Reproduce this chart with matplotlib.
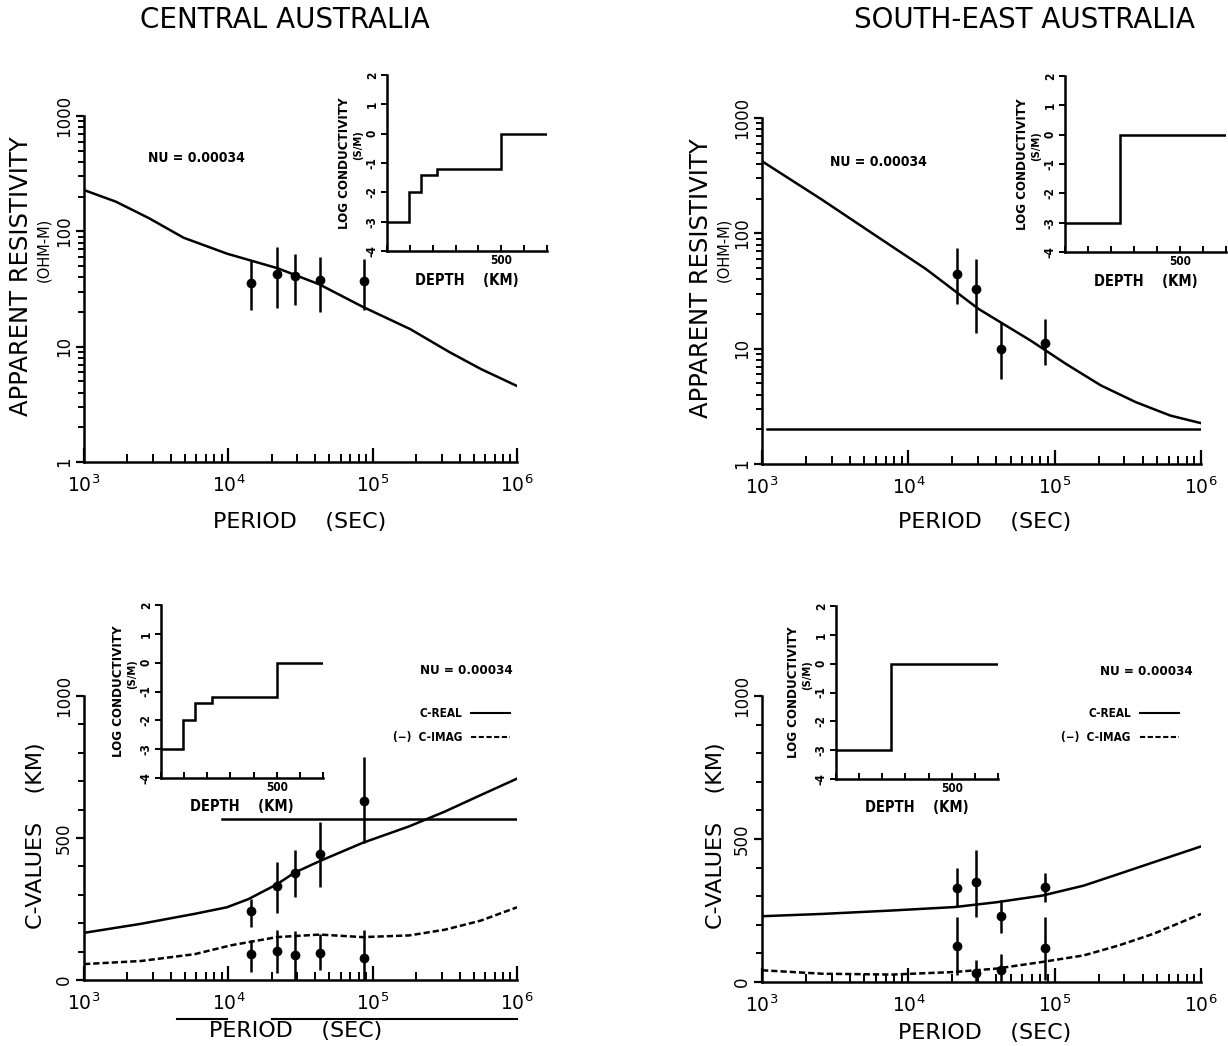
import numpy as np
import matplotlib
matplotlib.use("Agg")
import matplotlib.pyplot as plt
from matplotlib.ticker import FixedLocator, NullFormatter, LogLocator, MultipleLocator
from matplotlib.lines import Line2D
import matplotlib.transforms as mtransforms

plt.rcParams['font.family'] = ['DejaVu Sans']

# ---------------- data ----------------
titles = ["CENTRAL AUSTRALIA", "SOUTH-EAST AUSTRALIA"]
nu_label = "NU = 0.00034"
x_ticks = [1e3, 1e4, 1e5, 1e6]
x_ticklabels = [r"$10^3$", r"$10^4$", r"$10^5$", r"$10^6$"]
rho_ticks = [1, 10, 100, 1000]
rho_ticklabels = ["1", "10", "100", "1000"]
c_ticks = [0, 500, 1000]
c_ticklabels = ["0", "500", "1000"]

# observation periods (s)
ca_obs_period = [14400, 21600, 28800, 43200, 86400]
se_obs_period = [21600, 28800, 43200, 86400]

# Central Australia - apparent resistivity
ca_rho_curve_period = [1000, 1660, 2820, 4900, 9800, 21900, 42700, 85100, 182000, 339000, 562000, 1000000]
ca_rho_curve = [228, 181, 130, 88, 64, 47.9, 34.7, 22.2, 14.2, 9.0, 6.4, 4.56]
ca_rho_obs = [36, 42.6, 40.8, 37.6, 37]
ca_rho_low = [21, 21.5, 23, 20, 21]
ca_rho_high = [55, 73, 64, 60, 58]

# South-East Australia - apparent resistivity
se_rho_curve_period = [1000, 2550, 5810, 13200, 30200, 68900, 119000, 207000, 358000, 617000, 1000000]
se_rho_curve = [422, 197, 98, 49, 22.1, 11.7, 7.4, 4.8, 3.44, 2.63, 2.26]
se_rho_obs = [44.8, 32.8, 10.0, 11.3]
se_rho_low = [24.3, 13.8, 5.5, 7.2]
se_rho_high = [75, 60, 17, 18.2]
se_rho_base_period = [1090, 1000000]
se_rho_base = [2.0, 2.0]

# Central Australia - C values (km)
ca_c_real_period = [1000, 2490, 5850, 9770, 13800, 21700, 28800, 43100, 85300, 179000, 316000, 560000, 1000000]
ca_c_real = [166, 198, 233, 256, 285, 337, 378, 419, 483, 541, 593, 651, 709]
ca_c_imag_period = [1000, 2490, 5850, 10400, 21700, 43100, 85300, 179000, 316000, 560000, 1000000]
ca_c_imag = [56, 67, 91, 122, 151, 160, 151, 157, 177, 209, 256]
ca_c_real_obs = [242, 331, 378, 444, 631]
ca_c_real_low = [186, 235, 291, 329, 483]
ca_c_real_high = [285, 416, 456, 555, 785]
ca_c_imag_obs = [90, 101, 87, 95, 76]
ca_c_imag_low = [29, 23, 0, 35, 0]
ca_c_imag_high = [140, 177, 172, 163, 177]
ca_c_hline_period = [8970, 1000000]
ca_c_hline = [567, 567]
ca_under_period_a = [4400, 9800]
ca_under_period_b = [20100, 1000000]

# South-East Australia - C values (km)
se_c_period = [1000, 2570, 7730, 20700, 40200, 82000, 158000, 275000, 476000, 1000000]
se_c_real = [230, 238, 250, 262, 279, 302, 337, 378, 419, 474]
se_c_imag = [41, 29, 26, 35, 47, 70, 93, 128, 169, 238]
se_c_real_obs = [329, 349, 230, 331]
se_c_real_low = [262, 227, 172, 279]
se_c_real_high = [398, 463, 285, 380]
se_c_imag_obs = [126, 31, 41, 119]
se_c_imag_low = [23, 0, 0, 6]
se_c_imag_high = [227, 78, 99, 227]

# conductivity models (inset): depth edges (km) and log10 conductivity (S/m)
ca_model_depth = [0, 95, 148, 220, 500, 700]
ca_model_logsig = [-3, -2, -1.4, -1.2, 0]
se_model_depth = [0, 237, 700]
se_model_logsig = [-3, 0]

# ---------------- figure ----------------
W, H = 1228, 1046
fig = plt.figure(figsize=(W / 100, H / 100), dpi=100)

def rect(x0, y_top, x1, y_bot):
    return [x0 / W, 1 - y_bot / H, (x1 - x0) / W, (y_bot - y_top) / H]

LW = 1.8
BOLD = dict(fontweight='bold', fontstretch='condensed')

def style_main(ax):
    for s in ['top', 'right']:
        ax.spines[s].set_visible(False)
    for s in ['left', 'bottom']:
        ax.spines[s].set_linewidth(LW)
    ax.set_xscale('log')
    ax.set_xlim(1e3, 1e6)
    ax.xaxis.set_major_locator(FixedLocator(x_ticks))
    ax.set_xticklabels(x_ticklabels)
    ax.xaxis.set_minor_locator(LogLocator(base=10, subs=np.arange(2, 10)))
    ax.xaxis.set_minor_formatter(NullFormatter())
    ax.tick_params(axis='x', which='major', direction='in', length=10, width=1.6, labelsize=13.5, pad=9)
    ax.tick_params(axis='x', which='minor', direction='in', length=6, width=1.4)
    ax.tick_params(axis='y', which='major', direction='out', length=6, width=1.6, labelsize=12, labelrotation=90, pad=2)
    ax.tick_params(axis='y', which='minor', direction='out', length=4, width=1.4)

def errpts(ax, x, y, lo, hi):
    y = np.asarray(y, float)
    yerr = [y - np.asarray(lo, float), np.asarray(hi, float) - y]
    ax.errorbar(x, y, yerr=yerr, fmt='o', color='black', ms=6, elinewidth=LW, capsize=0, zorder=3)

def inset(r, edges, vals):
    ia = fig.add_axes(r)
    ia.stairs(vals, edges, color='black', lw=LW, baseline=None)
    ia.set_xlim(0, 700)
    ia.set_ylim(-4, 2)
    for s in ['top', 'right']:
        ia.spines[s].set_visible(False)
    for s in ['left', 'bottom']:
        ia.spines[s].set_linewidth(LW)
    ia.xaxis.set_major_locator(FixedLocator([500]))
    ia.set_xticklabels(["500"], fontsize=8.5, **BOLD)
    ia.xaxis.set_minor_locator(MultipleLocator(100))
    ia.set_yticks(range(-4, 3))
    ia.set_yticklabels([str(v) for v in range(-4, 3)], fontsize=8.5, rotation=90, va='center', **BOLD)
    ia.tick_params(axis='x', which='both', direction='in', length=4, width=1.4, pad=2)
    ia.tick_params(axis='y', which='major', direction='out', length=4, width=1.4, pad=2)
    ia.text(-0.265, 0.5, "LOG CONDUCTIVITY", transform=ia.transAxes, rotation=90,
            ha='center', va='center', fontsize=9.5, **BOLD)
    ia.text(-0.18, 0.6, "(S/M)", transform=ia.transAxes, rotation=90,
            ha='center', va='center', fontsize=8, **BOLD)
    ia.text(0.5, -0.165, "DEPTH    (KM)", transform=ia.transAxes,
            ha='center', va='center', fontsize=10.5, **BOLD)
    return ia

def legend_c(ax, xr, y1, y2):
    ax.text(xr - 0.11, y1, "C-REAL", transform=ax.transAxes, ha='right', va='center', fontsize=8.5, **BOLD)
    ax.text(xr - 0.11, y2, "(\u2212)  C-IMAG", transform=ax.transAxes, ha='right', va='center', fontsize=8.5, **BOLD)
    ax.add_line(Line2D([xr - 0.09, xr], [y1, y1], transform=ax.transAxes, color='black', lw=1.5, clip_on=False))
    ax.add_line(Line2D([xr - 0.09, xr], [y2, y2], transform=ax.transAxes, color='black', lw=1.5,
                       ls=(0, (2.5, 1.2)), clip_on=False))

def rho_axis(ax):
    ax.set_yscale('log')
    ax.set_ylim(1, 1000)
    ax.yaxis.set_major_locator(FixedLocator(rho_ticks))
    ax.set_yticklabels(rho_ticklabels, rotation=90, va='center')
    ax.yaxis.set_minor_locator(LogLocator(base=10, subs=np.arange(2, 10)))
    ax.yaxis.set_minor_formatter(NullFormatter())

def c_axis(ax):
    ax.set_ylim(0, 1000)
    ax.yaxis.set_major_locator(FixedLocator(c_ticks))
    ax.set_yticklabels(c_ticklabels, rotation=90, va='center')
    ax.yaxis.set_minor_locator(MultipleLocator(100))

# titles
fig.text(285 / W, 1 - 20 / H, titles[0], ha='center', va='center', fontsize=20)
fig.text(1025 / W, 1 - 20 / H, titles[1], ha='center', va='center', fontsize=20)

# ---- top-left: CA apparent resistivity ----
ax1 = fig.add_axes(rect(84, 116, 517, 462))
style_main(ax1)
rho_axis(ax1)
ax1.plot(ca_rho_curve_period, ca_rho_curve, color='black', lw=LW)
errpts(ax1, ca_obs_period, ca_rho_obs, ca_rho_low, ca_rho_high)
ax1.text(0.148, 0.879, nu_label, transform=ax1.transAxes, ha='left', va='center', fontsize=10, **BOLD)
fig.text(21 / W, 1 - 276 / H, "APPARENT RESISTIVITY", rotation=90, ha='center', va='center', fontsize=17.5)
fig.text(44 / W, 1 - 250 / H, "(OHM-M)", rotation=90, ha='center', va='center', fontsize=10.5)
fig.text(300 / W, 1 - 522 / H, "PERIOD    (SEC)", ha='center', va='center', fontsize=16)
inset(rect(387, 75, 547, 251), ca_model_depth, ca_model_logsig)

# ---- top-right: SE apparent resistivity ----
ax2 = fig.add_axes(rect(762, 118, 1201, 464))
style_main(ax2)
rho_axis(ax2)
ax2.plot(se_rho_curve_period, se_rho_curve, color='black', lw=LW)
ax2.plot(se_rho_base_period, se_rho_base, color='black', lw=LW)
errpts(ax2, se_obs_period, se_rho_obs, se_rho_low, se_rho_high)
ax2.text(0.155, 0.873, nu_label, transform=ax2.transAxes, ha='left', va='center', fontsize=10, **BOLD)
fig.text(701 / W, 1 - 278 / H, "APPARENT RESISTIVITY", rotation=90, ha='center', va='center', fontsize=17.5)
fig.text(724 / W, 1 - 250 / H, "(OHM-M)", rotation=90, ha='center', va='center', fontsize=10.5)
fig.text(985 / W, 1 - 522 / H, "PERIOD    (SEC)", ha='center', va='center', fontsize=16)
inset(rect(1065, 76, 1226, 252), se_model_depth, se_model_logsig)

# ---- bottom-left: CA C-values ----
ax3 = fig.add_axes(rect(84, 696, 517, 980))
style_main(ax3)
c_axis(ax3)
ax3.plot(ca_c_real_period, ca_c_real, color='black', lw=LW)
ax3.plot(ca_c_imag_period, ca_c_imag, color='black', lw=LW, ls=(0, (2.5, 1.2)))
ax3.plot(ca_c_hline_period, ca_c_hline, color='black', lw=LW)
errpts(ax3, ca_obs_period, ca_c_real_obs, ca_c_real_low, ca_c_real_high)
errpts(ax3, ca_obs_period, ca_c_imag_obs, ca_c_imag_low, ca_c_imag_high)
ax3.text(0.776, 1.09, nu_label, transform=ax3.transAxes, ha='left', va='center', fontsize=9.5, **BOLD)
legend_c(ax3, 0.984, 0.94, 0.855)
tr3 = mtransforms.blended_transform_factory(ax3.transData, ax3.transAxes)
ax3.add_line(Line2D(ca_under_period_a, [-0.137, -0.137], transform=tr3, color='black', lw=1.5, clip_on=False))
ax3.add_line(Line2D(ca_under_period_b, [-0.137, -0.137], transform=tr3, color='black', lw=1.5, clip_on=False))
fig.text(36 / W, 1 - 836 / H, "C-VALUES    (KM)", rotation=90, ha='center', va='center', fontsize=16)
fig.text(296 / W, 1 - 1031 / H, "PERIOD    (SEC)", ha='center', va='center', fontsize=16)
inset(rect(161, 605, 323, 778), ca_model_depth, ca_model_logsig)

# ---- bottom-right: SE C-values ----
ax4 = fig.add_axes(rect(762, 696, 1201, 982))
style_main(ax4)
c_axis(ax4)
ax4.plot(se_c_period, se_c_real, color='black', lw=LW)
ax4.plot(se_c_period, se_c_imag, color='black', lw=LW, ls=(0, (2.5, 1.2)))
errpts(ax4, se_obs_period, se_c_real_obs, se_c_real_low, se_c_real_high)
errpts(ax4, se_obs_period, se_c_imag_obs, se_c_imag_low, se_c_imag_high)
ax4.text(0.77, 1.085, nu_label, transform=ax4.transAxes, ha='left', va='center', fontsize=9.5, **BOLD)
legend_c(ax4, 0.95, 0.94, 0.855)
fig.text(716 / W, 1 - 836 / H, "C-VALUES    (KM)", rotation=90, ha='center', va='center', fontsize=16)
fig.text(985 / W, 1 - 1033 / H, "PERIOD    (SEC)", ha='center', va='center', fontsize=16)
inset(rect(836, 606, 998, 779), se_model_depth, se_model_logsig)

fig.savefig("out.png", dpi=100)
